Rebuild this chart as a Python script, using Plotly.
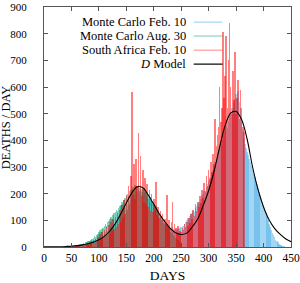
import plotly.graph_objects as go

# ---------------- data ----------------
STEP = 2
blue_start = 40
blue_vals = [
    1, 2, 1, 3, 2, 3, 2, 4, 3, 5,
    5, 6, 4, 7, 8, 9, 8, 11, 12, 10,
    14, 16, 13, 18, 20, 22, 25, 21, 28, 30,
    34, 38, 33, 42, 45, 50, 55, 48, 60, 64,
    70, 76, 68, 82, 88, 95, 100, 92, 110, 115,
    122, 130, 118, 140, 148, 155, 162, 150, 172, 178,
    185, 192, 180, 200, 205, 208, 212, 200, 210, 205,
    200, 196, 205, 190, 185, 180, 172, 178, 165, 160,
    152, 145, 150, 135, 128, 120, 112, 118, 100, 95,
    90, 84, 88, 78, 74, 72, 68, 74, 66, 64,
    66, 62, 70, 68, 72, 76, 80, 78, 86, 92,
    100, 108, 104, 116, 122, 128, 136, 132, 145, 152,
    160, 170, 165, 180, 190, 198, 210, 205, 225, 235,
    248, 262, 255, 278, 290, 305, 320, 312, 340, 355,
    368, 385, 378, 402, 420, 440, 455, 448, 470, 490,
    505, 520, 512, 540, 555, 575, 560, 585, 545, 520,
    470, 440, 410, 385, 370, 355, 345, 330, 318, 305,
    290, 275, 262, 248, 235, 222, 208, 195, 182, 168,
    152, 140, 126, 115, 102, 88, 76, 64, 54, 44,
    36, 28, 22, 17, 12, 9, 7, 5, 3, 2,
    1, 1, 0,
]
green_start = 40
green_vals = [
    1, 2, 2, 3, 2, 3, 4, 3, 5, 6,
    6, 8, 7, 10, 11, 12, 14, 13, 17, 19,
    21, 24, 22, 28, 31, 35, 40, 37, 46, 50,
    55, 62, 58, 68, 72, 78, 85, 80, 92, 98,
    104, 112, 106, 120, 126, 130, 140, 134, 148, 152,
    158, 168, 160, 178, 184, 190, 198, 192, 210, 214,
    218, 226, 215, 232, 228, 225, 232, 220, 226, 218,
    214, 220, 205, 208, 198, 192, 185, 188, 172, 168,
    160, 150, 155, 138, 132, 122, 115, 118, 102, 96,
    88, 80, 84, 70, 66, 58, 52, 55, 44, 40,
    34, 30, 28, 22, 18, 14,
]
red_start = 40
red_vals = [
    0, 1, 0, 1, 2, 1, 2, 3, 1, 4,
    3, 5, 2, 6, 12, 6, 8, 10, 7, 12,
    14, 8, 18, 10, 22, 25, 14, 30, 18, 38,
    22, 50, 30, 58, 35, 62, 38, 75, 45, 82,
    50, 92, 60, 105, 68, 112, 75, 128, 85, 140,
    95, 158, 110, 178, 125, 195, 140, 230, 160, 265,
    580, 200, 310, 180, 330, 230, 426, 210, 340, 190,
    290, 170, 260, 160, 235, 150, 215, 135, 200, 130,
    180, 140, 244, 120, 150, 110, 135, 100, 125, 90,
    105, 85, 194, 80, 100, 72, 95, 169, 65, 88,
    70, 58, 80, 52, 60, 55, 70, 62, 85, 75,
    95, 80, 110, 90, 125, 105, 140, 118, 160, 135,
    170, 150, 190, 165, 215, 185, 240, 210, 265, 230,
    290, 255, 320, 280, 350, 310, 480, 380, 420, 450,
    600, 470, 520, 805, 560, 640, 790, 520, 700, 840,
    600, 500, 660, 550, 730, 500, 560, 625, 480, 587,
    520, 450, 430,
]
model_days = list(range(0, 451, 10))
model_vals = [
    0.3, 0.5, 0.8, 1.2, 2, 3, 5, 8, 12, 18,
    27, 40, 60, 88, 125, 165, 203, 226, 222, 195,
    160, 125, 95, 70, 53, 47, 52, 75, 105, 155,
    212, 285, 375, 455, 502, 508, 478, 405, 300, 215,
    150, 102, 70, 48, 31, 20,
]
series_names = ["Monte Carlo Feb. 10", "Monte Carlo Aug. 30",
                "South Africa Feb. 10", "<i>D</i> Model"]
x_ticks = list(range(0, 451, 50))
y_ticks = list(range(0, 901, 100))


def days(start, vals):
    return [start + STEP * i for i in range(len(vals))]


colors = ["rgba(86,180,233,0.55)", "rgba(0,158,115,0.5)", "rgba(255,0,0,0.5)"]
legend_line_colors = ["rgba(86,180,233,0.55)", "rgba(0,158,115,0.45)", "rgba(255,0,0,0.4)"]

fig = go.Figure()
for (start, vals), col, name in zip(
        [(blue_start, blue_vals), (green_start, green_vals), (red_start, red_vals)],
        colors, series_names[:3]):
    fig.add_trace(go.Bar(x=days(start, vals), y=vals, width=3, name=name,
                         marker=dict(color=col, line=dict(width=0)),
                         showlegend=False))
fig.add_trace(go.Scatter(x=model_days, y=model_vals, mode="lines", name=series_names[3],
                         line=dict(color="black", width=1.1, shape="spline"),
                         showlegend=False))

FONT = "Liberation Serif"
fig.update_layout(
    width=300, height=283,
    margin=dict(l=44, r=9, t=7, b=36),
    paper_bgcolor="white", plot_bgcolor="white",
    barmode="overlay", bargap=0,
    font=dict(family=FONT, size=12, color="black"),
    showlegend=False,
)
axis_common = dict(showline=True, linecolor="#555", linewidth=1, mirror="ticks",
                   ticks="inside", ticklen=4, tickcolor="#555", showgrid=False,
                   zeroline=False, automargin=False,
                   tickfont=dict(family=FONT, size=11.5))
fig.update_xaxes(range=[0, 450], tickvals=x_ticks,
                 title=dict(text="DAYS", standoff=8, font=dict(family=FONT, size=13.5)),
                 **axis_common)
fig.update_yaxes(range=[0, 900], tickvals=y_ticks, ticklabelstandoff=14, **axis_common)
fig.update_yaxes(tickfont=dict(family=FONT, size=11))

# y-axis title placed explicitly (left of the tick labels, as in the reference)
fig.add_annotation(x=-0.153, y=0.5, xref="paper", yref="paper", text="DEATHS / DAY",
                   textangle=-90, showarrow=False, xanchor="center", yanchor="middle",
                   borderpad=0, font=dict(family=FONT, size=12.5))

# gnuplot-style legend: right-aligned text, sample line on the right
leg_y = [0.937, 0.879, 0.820, 0.762]
leg_cols = legend_line_colors + ["black"]
for name, yy, col in zip(series_names, leg_y, leg_cols):
    fig.add_annotation(x=0.580, y=yy, xref="paper", yref="paper", text=name,
                       showarrow=False, xanchor="right", yanchor="middle",
                       borderpad=0, font=dict(family=FONT, size=12.5))
    fig.add_shape(type="line", xref="paper", yref="paper", x0=0.606, x1=0.723,
                  y0=yy, y1=yy, line=dict(color=col, width=1.2))

fig.write_html("out.html", config={"displayModeBar": False},
               post_script="document.body.style.margin='0px';document.body.style.padding='0px';")
